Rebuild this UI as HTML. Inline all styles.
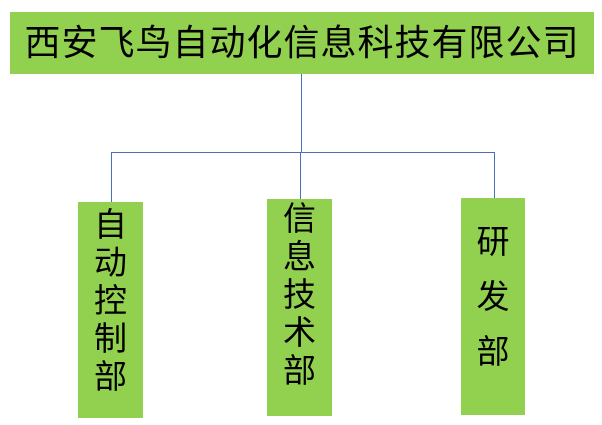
<!DOCTYPE html>
<html><head><meta charset="utf-8"><style>
body{margin:0;width:602px;height:425px;background:#fff;position:relative;overflow:hidden;font-family:"Liberation Sans","Noto Sans CJK SC",sans-serif;color:#000}
.b{position:absolute;background:#92d050}
.t{position:absolute;left:10px;top:12px;width:584px;height:62px;font-size:36px;line-height:62px;text-align:center;letter-spacing:1px}
.v{text-align:center;font-size:33px;line-height:38px}
.l{position:absolute;background:#4a6fb5}
</style></head><body>
<div class="b t">西安飞鸟自动化信息科技有限公司</div>
<div class="l" style="left:301px;top:74px;width:1px;height:78px"></div>
<div class="l" style="left:111px;top:152px;width:383px;height:1px"></div>
<div class="l" style="left:111px;top:152px;width:1px;height:50px"></div>
<div class="l" style="left:300px;top:152px;width:1px;height:47px"></div>
<div class="l" style="left:494px;top:152px;width:1px;height:46px"></div>
<div class="b v" style="left:78px;top:202px;width:65px;height:216px;padding-top:4px;box-sizing:border-box">自<br>动<br>控<br>制<br>部</div>
<div class="b v" style="left:267px;top:199px;width:65px;height:217px;padding-top:1px;box-sizing:border-box">信<br>息<br>技<br>术<br>部</div>
<div class="b v" style="left:461px;top:198px;width:64px;height:217px;padding-top:16px;box-sizing:border-box;line-height:55px">研<br>发<br>部</div>
</body></html>
